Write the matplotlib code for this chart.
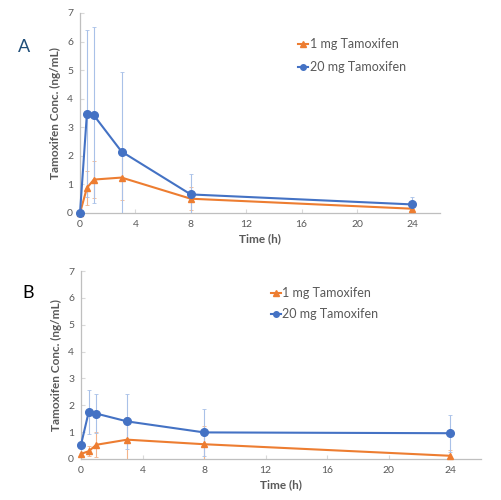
import numpy as np
import matplotlib.pyplot as plt
from matplotlib.lines import Line2D

plt.rcParams['font.family'] = ['Lato', 'DejaVu Sans']

# time points (h)
time = [0, 0.5, 1, 3, 8, 24]

# panel A
a_1mg = [0, 0.88, 1.17, 1.24, 0.50, 0.15]
a_1mg_err = [0, 0.60, 0.66, 0.78, 0.41, 0.06]
a_20mg = [0, 3.48, 3.42, 2.15, 0.65, 0.30]
a_20mg_err = [0, 2.92, 3.08, 2.78, 0.70, 0.25]

# panel B
b_1mg = [0.19, 0.29, 0.53, 0.72, 0.55, 0.12]
b_1mg_err = [0.05, 0.18, 0.46, 0.84, 0.69, 0.23]
b_20mg = [0.53, 1.75, 1.69, 1.40, 0.99, 0.96]
b_20mg_err = [0.12, 0.83, 0.74, 1.03, 0.87, 0.69]

labels = ['1 mg Tamoxifen', '20 mg Tamoxifen']
orange = '#ED7D31'
blue = '#4472C4'
grey = '#595959'

fig = plt.figure(figsize=(5.02, 5.00), dpi=100)
axA = fig.add_axes([80/502, 1-213/500, 360/502, 200/500])
axB = fig.add_axes([81/502, 1-459/500, 400/502, 188/500])


def panel(ax, y1, e1, y2, e2, leg_xy, spacing):
    c1 = ax.errorbar(time, y1, yerr=e1, color=orange, lw=1.5, marker='^', ms=5,
                     ecolor='#F4B48A', elinewidth=0.8, capsize=1.5, capthick=0.6,
                     zorder=3)
    c2 = ax.errorbar(time, y2, yerr=e2, color=blue, lw=1.5, marker='o', ms=5.5,
                     ecolor='#A9C1E8', elinewidth=0.8, capsize=1.5, capthick=0.6,
                     zorder=3)
    # data lines may sit on the axis, don't clip them
    c1.lines[0].set_clip_on(False)
    c2.lines[0].set_clip_on(False)
    ax.set_xlim(0, 26)
    ax.set_ylim(0, 7)
    ax.set_xticks([0, 4, 8, 12, 16, 20, 24])
    ax.set_yticks(range(0, 8))
    for s in ['top', 'right']:
        ax.spines[s].set_visible(False)
    for s in ['left', 'bottom']:
        ax.spines[s].set_color('#BFBFBF')
        ax.spines[s].set_linewidth(0.9)
    ax.tick_params(direction='in', length=3, color='#D9D9D9', labelsize=7.5,
                   labelcolor=grey, pad=5)
    ax.set_xlabel('Time (h)', fontsize=8.5, fontweight='bold', color=grey, labelpad=3)
    ax.set_ylabel('Tamoxifen Conc. (ng/mL)', fontsize=8.5, fontweight='bold', color=grey,
                  labelpad=4)
    handles = [Line2D([], [], color=orange, lw=1.5, marker='^', ms=4),
               Line2D([], [], color=blue, lw=1.5, marker='o', ms=4)]
    ax.legend(handles, labels, loc='upper left', bbox_to_anchor=leg_xy,
              bbox_transform=fig.transFigure, frameon=False, fontsize=9,
              labelcolor=grey, handlelength=0.8, handletextpad=0.1,
              labelspacing=spacing, borderpad=0)


panel(axA, a_1mg, a_1mg_err, a_20mg, a_20mg_err, (292/502, 1-32/500), 0.85)
panel(axB, b_1mg, b_1mg_err, b_20mg, b_20mg_err, (265/502, 1-281/500), 0.7)

fig.text(24/502, 1-47/500, 'A', fontsize=13, color='#1F4E79', ha='center', va='center')
fig.text(28/502, 1-293/500, 'B', fontsize=13, color='black', ha='center', va='center')

fig.savefig('out.png', dpi=100)
